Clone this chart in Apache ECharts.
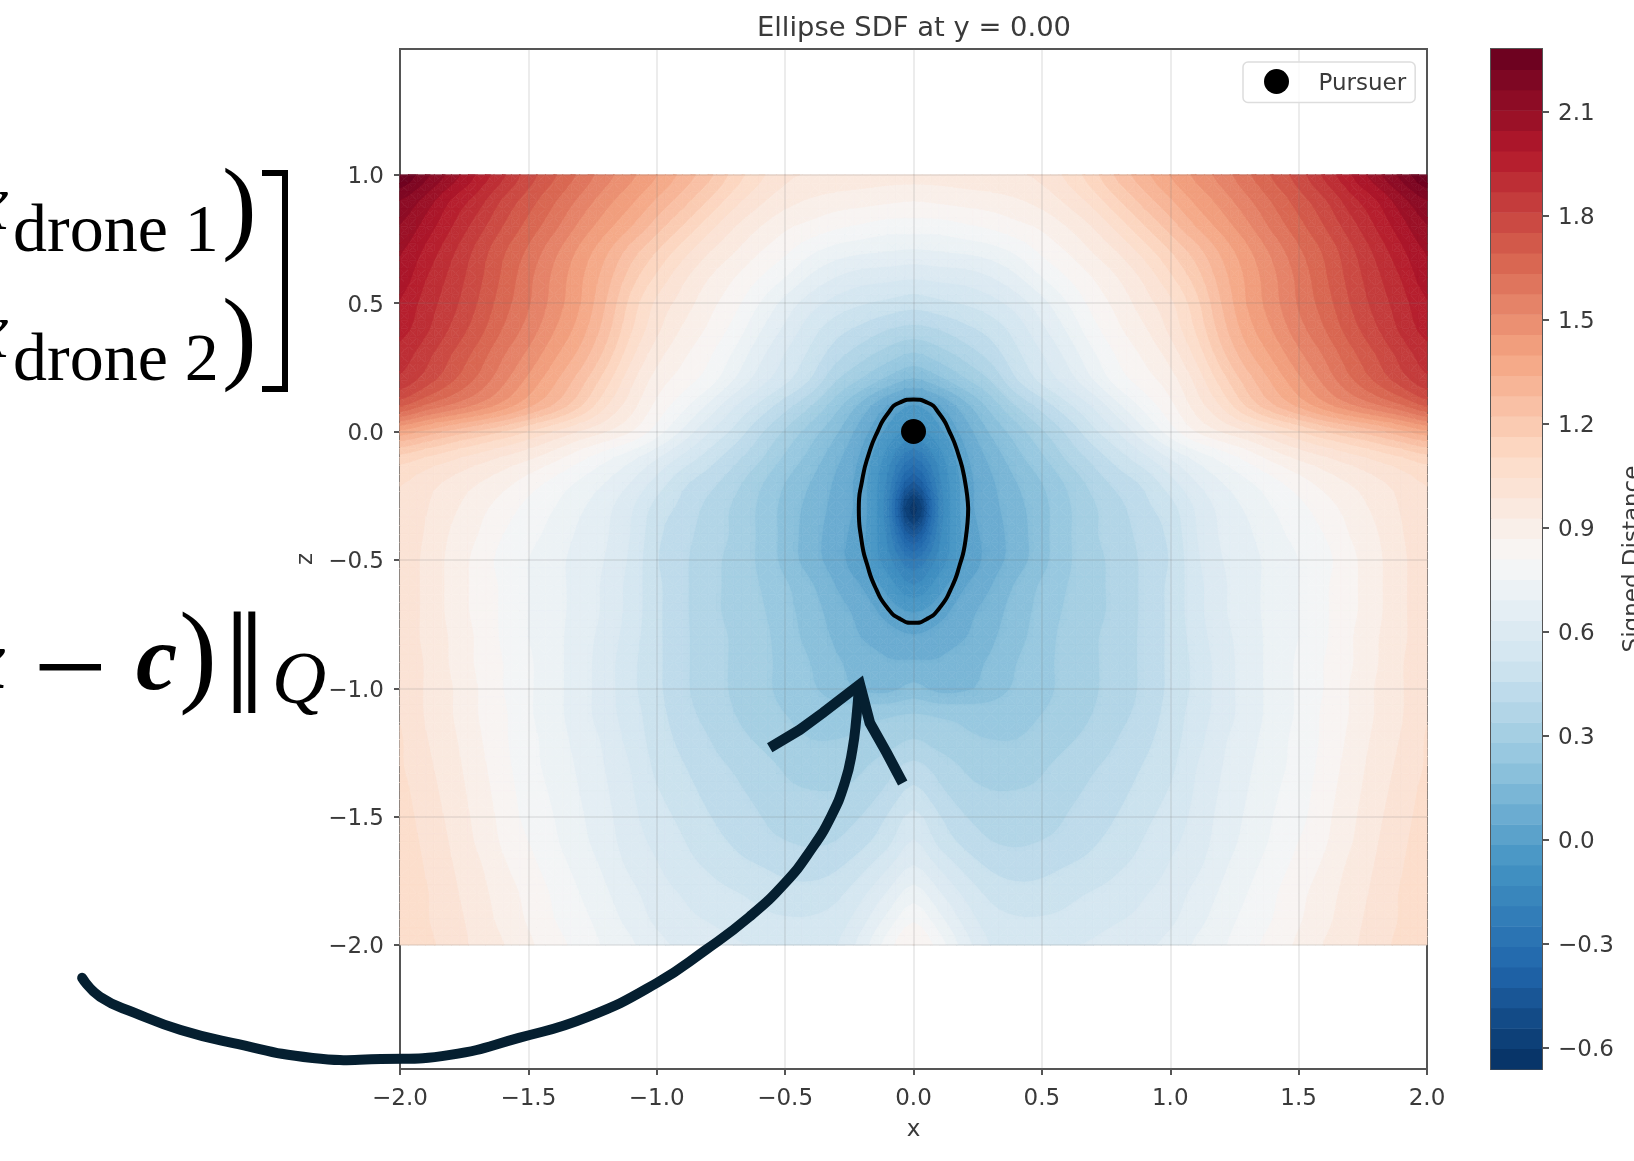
<!DOCTYPE html>
<html><head><meta charset="utf-8">
<style>html,body{margin:0;padding:0;background:#fff;overflow:hidden}#c{width:1634px;height:1161px}</style>
<script src="https://cdn.jsdelivr.net/npm/echarts@6/dist/echarts.min.js"></script>
</head><body><div id="c"></div>
<script>
// Signed distance. Each row runs x = -2.0 .. 0.0 (step 0.1); the picture is mirror-symmetric about x = 0.
const z_p10=[2.28,2.18,2.08,1.98,1.88,1.78,1.70,1.62,1.54,1.47,1.40,1.32,1.24,1.14,1.06,1.00,.98,.97,.96,.95,.95];
const z_p09=[2.16,2.08,1.98,1.90,1.80,1.72,1.64,1.56,1.48,1.41,1.33,1.25,1.16,1.07,1.00,.95,.92,.90,.89,.88,.87];
const z_p08=[2.10,2.02,1.93,1.84,1.75,1.67,1.59,1.50,1.42,1.34,1.25,1.16,1.07,.99,.93,.88,.85,.82,.80,.78,.78];
const z_p07=[2.05,1.97,1.88,1.79,1.70,1.62,1.53,1.44,1.35,1.25,1.16,1.07,.99,.93,.87,.82,.76,.72,.70,.69,.68];
const z_p06=[2.02,1.93,1.85,1.77,1.68,1.59,1.50,1.41,1.31,1.19,1.09,1.00,.93,.87,.81,.75,.68,.63,.60,.59,.58];
const z_p05=[1.98,1.90,1.83,1.75,1.66,1.58,1.49,1.40,1.28,1.14,1.03,.96,.89,.83,.75,.67,.60,.55,.52,.50,.48];
const z_p04=[1.95,1.88,1.80,1.72,1.63,1.55,1.46,1.37,1.25,1.11,1.00,.92,.86,.79,.70,.62,.54,.48,.44,.40,.38];
const z_p03=[1.90,1.83,1.75,1.67,1.58,1.50,1.41,1.32,1.20,1.06,.95,.88,.82,.74,.65,.57,.50,.42,.36,.31,.27];
const z_p02=[1.85,1.78,1.70,1.62,1.53,1.44,1.35,1.25,1.13,1.00,.90,.84,.78,.69,.60,.53,.45,.34,.27,.20,.15];
const z_p01=[1.70,1.62,1.56,1.50,1.43,1.35,1.27,1.17,1.05,.95,.85,.77,.68,.58,.50,.42,.34,.24,.14,.04,-.02];
const z_000=[1.38,1.32,1.26,1.21,1.16,1.10,1.04,.98,.93,.87,.78,.68,.58,.50,.41,.33,.25,.17,.07,-.03,-.09];
const z_m01=[1.14,1.10,1.06,1.02,.98,.94,.89,.83,.77,.71,.64,.56,.49,.42,.35,.27,.20,.12,.03,-.10,-.25];
const z_m02=[1.05,1.01,.97,.93,.89,.84,.79,.74,.69,.63,.55,.47,.42,.36,.29,.22,.16,.09,.01,-.15,-.44];
const z_m03=[1.03,.99,.94,.89,.84,.79,.75,.70,.65,.58,.49,.44,.38,.33,.27,.20,.14,.08,.01,-.18,-.65];
const z_m04=[1.03,.98,.92,.87,.81,.77,.73,.68,.64,.57,.47,.42,.37,.33,.27,.20,.13,.07,.00,-.15,-.46];
const z_m05=[1.03,.97,.91,.85,.79,.75,.71,.67,.63,.56,.46,.41,.36,.32,.27,.20,.13,.07,-.01,-.11,-.25];
const z_m06=[1.03,.97,.91,.85,.80,.75,.71,.67,.62,.55,.47,.41,.36,.32,.28,.23,.17,.10,.04,-.04,-.13];
const z_m07=[1.03,.97,.91,.85,.80,.75,.71,.67,.62,.55,.47,.41,.36,.32,.29,.24,.19,.13,.08,.02,-.02];
const z_m08=[1.03,.97,.92,.86,.80,.75,.71,.66,.61,.54,.47,.41,.37,.33,.30,.25,.20,.15,.10,.07,.05];
const z_m09=[1.03,.98,.92,.86,.81,.76,.71,.66,.60,.53,.47,.41,.37,.33,.30,.26,.22,.17,.14,.11,.11];
const z_m10=[1.03,.98,.93,.87,.81,.76,.71,.66,.60,.53,.47,.41,.37,.33,.30,.26,.23,.19,.15,.14,.18];
const z_m11=[1.04,.98,.93,.87,.82,.76,.71,.66,.60,.54,.48,.42,.38,.34,.31,.28,.26,.25,.26,.27,.28];
const z_m12=[1.05,.99,.94,.88,.82,.77,.72,.67,.62,.55,.49,.44,.40,.36,.33,.30,.28,.28,.29,.31,.34];
const z_m13=[1.05,1.00,.95,.89,.83,.77,.73,.68,.63,.57,.50,.46,.42,.39,.36,.33,.31,.31,.33,.37,.41];
const z_m14=[1.06,1.01,.96,.90,.84,.78,.74,.69,.64,.58,.52,.48,.44,.41,.38,.35,.34,.34,.36,.41,.47];
const z_m15=[1.07,1.02,.97,.91,.85,.79,.75,.70,.65,.59,.54,.50,.46,.43,.40,.37,.36,.37,.40,.46,.53];
const z_m16=[1.08,1.03,.98,.92,.86,.81,.76,.71,.66,.60,.56,.52,.48,.45,.42,.40,.39,.40,.44,.50,.58];
const z_m17=[1.09,1.04,.99,.94,.88,.83,.78,.73,.68,.62,.58,.54,.51,.48,.46,.44,.43,.45,.50,.57,.64];
const z_m18=[1.09,1.05,1.00,.95,.90,.85,.80,.75,.70,.65,.60,.57,.54,.52,.50,.48,.48,.50,.56,.64,.72];
const z_m19=[1.10,1.05,1.01,.96,.91,.86,.81,.77,.72,.67,.62,.59,.57,.55,.53,.52,.52,.54,.61,.71,.80];
const z_m20=[1.10,1.06,1.02,.97,.93,.88,.83,.79,.74,.70,.65,.62,.60,.58,.57,.56,.55,.57,.66,.78,.87];

const gridZ=[1.0,.9,.8,.7,.6,.5,.4,.3,.2,.1,0,-.1,-.2,-.3,-.4,-.5,-.6,-.7,-.8,-.9,-1.0,-1.1,-1.2,-1.3,-1.4,-1.5,-1.6,-1.7,-1.8,-1.9,-2.0];
const gridRows=[z_p10,z_p09,z_p08,z_p07,z_p06,z_p05,z_p04,z_p03,z_p02,z_p01,z_000,z_m01,z_m02,z_m03,z_m04,z_m05,z_m06,z_m07,z_m08,z_m09,z_m10,z_m11,z_m12,z_m13,z_m14,z_m15,z_m16,z_m17,z_m18,z_m19,z_m20];
const gridX=[-2,-1.9,-1.8,-1.7,-1.6,-1.5,-1.4,-1.3,-1.2,-1.1,-1,-.9,-.8,-.7,-.6,-.5,-.4,-.3,-.2,-.1,0,.1,.2,.3,.4,.5,.6,.7,.8,.9,1,1.1,1.2,1.3,1.4,1.5,1.6,1.7,1.8,1.9,2];

// Ellipse boundary, pursuer, hand-drawn arrow (data units)
const ellipseX=[.213,.2,.175,.14,.1,.055,0,-.055,-.1,-.14,-.175,-.2,-.213,-.203,-.18,-.145,-.103,-.052,0,.052,.103,.145,.18,.203,.213];
const ellipseZ=[-.3,-.19,-.09,0,.07,.112,.125,.112,.07,0,-.09,-.19,-.3,-.42,-.52,-.615,-.685,-.73,-.745,-.73,-.685,-.615,-.52,-.42,-.3];
const pursuer=[[0,0]];
const arrowShaft=[[-3.238,-2.128],[-3.168,-2.202],[-3.031,-2.265],[-2.854,-2.331],[-2.654,-2.381],[-2.34,-2.44],[-2.074,-2.444],[-1.805,-2.428],[-1.537,-2.362],[-1.268,-2.28],[-1.0,-2.148],[-.809,-2.019],[-.64,-1.891],[-.50,-1.758],[-.40,-1.63],[-.322,-1.501],[-.268,-1.369],[-.238,-1.24],[-.222,-1.111],[-.213,-1.0]];
const arrowHead=[[-.56,-1.232],[-.443,-1.162],[-.353,-1.096],[-.209,-.985],[-.17,-1.135],[-.104,-1.252],[-.042,-1.369]];

const xTicks=[-2,-1.5,-1,-.5,0,.5,1,1.5,2];
const zTicks=[-2,-1.5,-1,-.5,0,.5,1];
const cbarTicks=[-.6,-.3,0,.3,.6,.9,1.2,1.5,1.8,2.1];
const cbarMin=-.661, cbarMax=2.28, nBands=50;
const rdbu=['#053061','#2166ac','#4393c3','#92c5de','#d1e5f0','#f7f7f7','#fddbc7','#f4a582','#d6604d','#b2182b','#67001f'];

function hex(c){return [1,3,5].map(i=>parseInt(c.substr(i,2),16));}
function cmap(t){t=Math.max(0,Math.min(1,t))*10;const i=Math.min(9,Math.floor(t)),f=t-i,a=hex(rdbu[i]),b=hex(rdbu[i+1]);
 return 'rgb('+a.map((v,k)=>Math.round(v+(b[k]-v)*f)).join(',')+')';}
const levels=[],bandColors=[];
for(let i=0;i<=nBands;i++)levels.push(cbarMin+(cbarMax-cbarMin)*i/nBands);
for(let i=0;i<nBands;i++)bandColors.push(cmap((i+.5)/nBands));

const cells=[];
const full=gridRows.map(r=>r.concat(r.slice(0,-1).reverse()));
for(let j=0;j<gridZ.length-1;j++)for(let i=0;i<gridX.length-1;i++){
 cells.push([gridX[i],gridZ[j],gridX[i+1],gridZ[j+1],i,j]);
}
const bandData=bandColors.map((c,i)=>[0,levels[i],1,levels[i+1],i]);

// Contour surface through the grid values (drawing only, like contourf's own interpolation)
const cr=(p0,p1,p2,p3,t)=>p1+.5*t*(p2-p0+t*(2*p0-5*p1+4*p2-p3+t*(3*(p1-p2)+p3-p0)));
const at=(j,i)=>full[Math.max(0,Math.min(full.length-1,j))][Math.max(0,Math.min(gridX.length-1,i))];
function surf(i,j,u,v){
 const r=[-1,0,1,2].map(d=>cr(at(j+d,i-1),at(j+d,i),at(j+d,i+1),at(j+d,i+2),u));
 return cr(r[0],r[1],r[2],r[3],v);
}
const SUB=3;
function clipAbove(p,L){const o=[];for(let i=0;i<p.length;i++){const a=p[i],b=p[(i+1)%p.length];
 if(a[2]>=L)o.push(a);
 if((a[2]>=L)!==(b[2]>=L)){const t=(L-a[2])/(b[2]-a[2]);o.push([a[0]+(b[0]-a[0])*t,a[1]+(b[1]-a[1])*t,L]);}}
 return o;}
function bandIndex(v){let k=Math.floor((v-cbarMin)/(cbarMax-cbarMin)*nBands);return Math.max(0,Math.min(nBands-1,k));}
function renderCell(params,api){
 const x0=api.value(0),z0=api.value(1),x1=api.value(2),z1=api.value(3),ci=api.value(4),cj=api.value(5);
 const pts=[];
 for(let b=0;b<=SUB;b++){const row=[];for(let a=0;a<=SUB;a++){
  const u=a/SUB,v=b/SUB,q=api.coord([x0+(x1-x0)*u,z0+(z1-z0)*v]);
  row.push([q[0],q[1],surf(ci,cj,u,v)]);} pts.push(row);}
 const children=[];
 for(let b=0;b<SUB;b++)for(let a=0;a<SUB;a++){
  const A=pts[b][a],B=pts[b][a+1],C=pts[b+1][a],D=pts[b+1][a+1];
  const M=[(A[0]+D[0])/2,(A[1]+D[1])/2,(A[2]+B[2]+C[2]+D[2])/4];
  [[A,B,M],[B,D,M],[D,C,M],[C,A,M]].forEach(tri=>{
   const vs=tri.map(p=>p[2]),lo=bandIndex(Math.min(...vs)),hi=bandIndex(Math.max(...vs));
   for(let k=lo;k<=hi;k++){
    const poly=k===lo?tri:clipAbove(tri,levels[k]);
    if(poly.length<3)continue;
    children.push({type:'polygon',shape:{points:poly.map(p=>[p[0],p[1]])},
     style:{fill:bandColors[k],stroke:bandColors[k],lineWidth:.7},silent:true});
   }
  });
 }
 return {type:'group',children};
}
function renderBand(params,api){
 const p=api.coord([api.value(0),api.value(1)]),q=api.coord([api.value(2),api.value(3)]);
 return {type:'rect',shape:{x:p[0],y:q[1],width:q[0]-p[0],height:p[1]-q[1]+.5},style:{fill:bandColors[api.value(4)]},silent:true};
}
const arrowInk='#051f30';
function renderArrow(params,api){
 const sh=arrowShaft.map(p=>api.coord(p)),hd=arrowHead.map(p=>api.coord(p));
 return {type:'group',children:[
  {type:'polyline',shape:{points:sh,smooth:.5},style:{fill:null,stroke:arrowInk,lineWidth:10,lineCap:'round',lineJoin:'round'},silent:true},
  {type:'polyline',shape:{points:hd},style:{fill:null,stroke:arrowInk,lineWidth:10.5,lineCap:'butt',lineJoin:'miter',miterLimit:8},silent:true}
 ]};
}
const fmt=v=>Number(v).toFixed(1).replace('-','\u2212');
const font='"DejaVu Sans"',ink='#3a3a3a',spine='#555';
const serif='"Liberation Serif"';
function T(text,x,y,f,extra){return Object.assign({type:'text',x:x,y:y,silent:true,style:{text:text,font:f,fill:'#000',align:'left',verticalAlign:'bottom'}},extra||{});}

const option={
 animation:false,backgroundColor:'#fff',
 title:{text:'Ellipse SDF at y = 0.00',left:909,top:10,textAlign:'center',textStyle:{fontFamily:font,fontSize:27.4,fontWeight:'normal',color:ink}},
 legend:{data:['Pursuer'],left:1243,top:62,padding:[7,9,7,21],icon:'circle',itemWidth:50,itemHeight:25,backgroundColor:'rgba(255,255,255,.8)',borderColor:'#ddd',borderWidth:1.5,borderRadius:5,
  formatter:'{a|{name}}',
  textStyle:{rich:{a:{fontFamily:font,fontSize:23,color:ink,padding:[5,0,0,12]}}}},
 grid:[{left:400,top:49,width:1027,height:1020,show:true,borderColor:spine,borderWidth:2,backgroundColor:'#fff',outerBoundsMode:'none'},
       {left:1491,top:49,width:51,height:1020,show:true,borderColor:spine,borderWidth:2,outerBoundsMode:'none'}],
 xAxis:[{type:'value',gridIndex:0,min:-2,max:2,interval:.5,splitLine:{show:false},
   axisLine:{show:false,onZero:false},axisTick:{show:true,length:6,lineStyle:{color:spine,width:2}},
   axisLabel:{formatter:fmt,fontFamily:font,fontSize:23,color:ink,margin:19},
   name:'x',nameLocation:'middle',nameGap:50,nameTextStyle:{fontFamily:font,fontSize:23,color:ink}},
  {type:'value',gridIndex:1,min:0,max:1,show:false}],
 yAxis:[{type:'value',gridIndex:0,position:'left',min:-2.483,max:1.49,splitLine:{show:false},axisLine:{show:false,onZero:false},
   axisTick:{show:true,length:6,customValues:zTicks,lineStyle:{color:spine,width:2}},
   axisLabel:{customValues:zTicks,formatter:fmt,fontFamily:font,fontSize:23,color:ink,margin:16,verticalAlign:'top',lineHeight:5},
   name:'z',nameLocation:'middle',nameGap:82,nameRotate:90,nameTextStyle:{fontFamily:font,fontSize:23,color:ink}},
  {type:'value',gridIndex:1,position:'right',min:cbarMin,max:cbarMax,splitLine:{show:false},axisLine:{show:false,onZero:false},
   axisTick:{show:true,length:7,customValues:cbarTicks,lineStyle:{color:spine,width:2}},
   axisLabel:{customValues:cbarTicks,formatter:fmt,fontFamily:font,fontSize:23,color:ink,margin:16,verticalAlign:'top',lineHeight:5},
   name:'Signed Distance',nameLocation:'middle',nameGap:80,nameRotate:90,nameTextStyle:{fontFamily:font,fontSize:23,color:ink}}],
 series:[
  {type:'custom',name:'SDF',xAxisIndex:0,yAxisIndex:0,data:cells,renderItem:renderCell,progressive:0,encode:{x:[0,2],y:[1,3]},z:1,silent:true},
  {type:'custom',name:'Colorbar',xAxisIndex:1,yAxisIndex:1,data:bandData,renderItem:renderBand,progressive:0,encode:{x:[0,2],y:[1,3]},z:1,silent:true},
  {type:'line',name:'gridlines',xAxisIndex:0,yAxisIndex:0,data:[],z:3,silent:true,
   markLine:{silent:true,symbol:'none',label:{show:false},animation:false,z:3,lineStyle:{color:'rgba(110,110,110,.17)',width:1.6,type:'solid'},
    data:xTicks.slice(1,-1).map(v=>({xAxis:v})).concat(zTicks.map(v=>({yAxis:v})))}},
  {type:'line',name:'Ellipse',xAxisIndex:0,yAxisIndex:0,data:ellipseX.map((x,i)=>[x,ellipseZ[i]]),smooth:.6,showSymbol:false,symbol:'none',lineStyle:{color:'#000',width:4},z:6,silent:true},
  {type:'scatter',name:'Pursuer',xAxisIndex:0,yAxisIndex:0,data:pursuer,symbol:'circle',symbolSize:25,itemStyle:{color:'#000',opacity:1},z:7,silent:true},
  {type:'custom',name:'arrow',xAxisIndex:0,yAxisIndex:0,data:[[0,-1]],renderItem:renderArrow,clip:false,z:8,silent:true}
 ],
 graphic:{elements:[
  T('x',-27,248,'italic 80px '+serif),
  T('drone 1',13,267,'68px '+serif),
  T(')',222,265,'104px '+serif),
  T('x',-27,376,'italic 80px '+serif),
  T('drone 2',13,396,'68px '+serif),
  T(')',222,395,'104px '+serif),
  {type:'polyline',shape:{points:[[262,173],[285,173],[285,389],[262,389]]},style:{stroke:'#000',lineWidth:6,fill:null},silent:true},
  T('x',-35,708,'italic bold 84px '+serif),
  T('\u2212',33,742,'132px '+serif),
  T('c',136,711,'italic bold 93px '+serif),
  T(')',179,718,'114px '+serif),
  T('\u2016',224,748,'146px '+serif),
  T('Q',272,721,'italic 75px '+serif)
 ]}
};
const chart=echarts.init(document.getElementById('c'),null,{renderer:'canvas'});
chart.setOption(option);
</script></body></html>
